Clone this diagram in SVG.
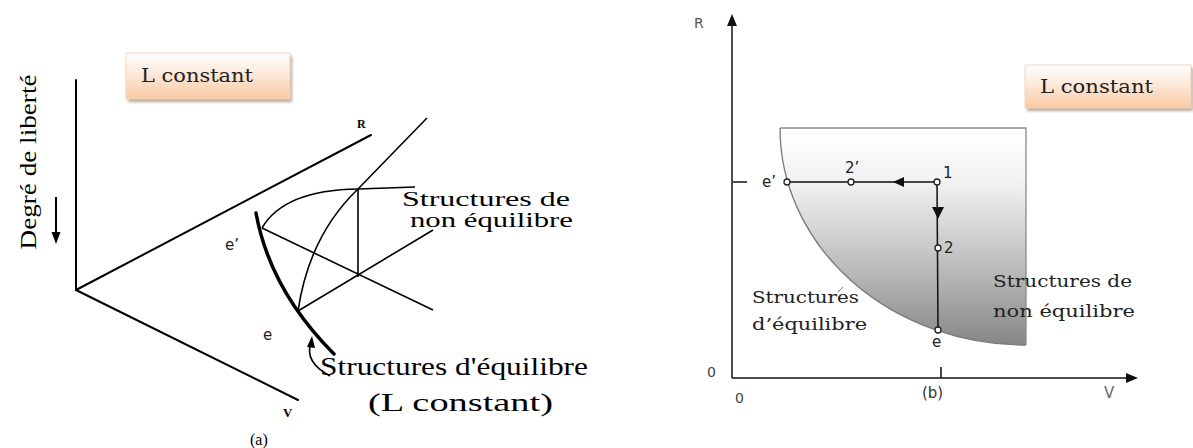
<svg xmlns="http://www.w3.org/2000/svg" width="1193" height="448" viewBox="0 0 1193 448">
<style>
.ax{stroke:#000;stroke-width:2;fill:none;stroke-linecap:round}
.ln{stroke:#000;stroke-width:1.6;fill:none}
.thick{stroke:#000;stroke-width:3.5;fill:none;stroke-linecap:round}
.ser{font-family:"Liberation Serif","Times New Roman",serif;fill:#000}
.dser{font-family:"DejaVu Serif","Liberation Serif",serif;fill:#222}
.sans{font-family:"DejaVu Sans","Liberation Sans",Arial,sans-serif;fill:#222}
.rl{stroke:#111;stroke-width:1.5;fill:none}
.pt{fill:#fff;stroke:#222;stroke-width:1.3}
.box{fill:url(#peach);stroke:#f1d6c2;stroke-width:1}
</style>
<defs>
<linearGradient id="peach" x1="0" y1="0" x2="0" y2="1">
<stop offset="0" stop-color="#ffffff"/>
<stop offset="0.35" stop-color="#fdeee3"/>
<stop offset="1" stop-color="#f9c9a3"/>
</linearGradient>
<linearGradient id="gray" gradientUnits="userSpaceOnUse" x1="0" y1="128" x2="0" y2="345">
<stop offset="0" stop-color="#ffffff"/>
<stop offset="0.25" stop-color="#f2f2f2"/>
<stop offset="0.6" stop-color="#c2c2c2"/>
<stop offset="1" stop-color="#868686"/>
</linearGradient>
<filter id="sh" x="-10%" y="-20%" width="125%" height="160%">
<feGaussianBlur stdDeviation="1.5"/>
</filter>
</defs>

<!-- Left diagram (a) -->
<g id="box-a">
<rect x="128" y="56" width="164" height="46" fill="#b8a89a" filter="url(#sh)"/>
<rect class="box" x="126" y="53" width="164" height="46"/>
<text class="dser" x="141" y="82" font-size="18" textLength="112" lengthAdjust="spacingAndGlyphs">L constant</text>
</g>

<g id="axes-a">
<line class="ax" x1="76" y1="80" x2="76" y2="290"/>
<line class="ax" x1="76" y1="290" x2="371" y2="135"/>
<line class="ax" x1="76" y1="290" x2="298" y2="400"/>
<text class="ser" x="357" y="128" font-size="12" font-weight="bold">R</text>
<text class="ser" x="283" y="417" font-size="13" font-weight="bold">V</text>
<text class="ser" x="250" y="445" font-size="16">(a)</text>
</g>

<g id="ylabel-a">
<text class="ser" transform="translate(36,162) rotate(-90)" text-anchor="middle" font-size="24" textLength="175" lengthAdjust="spacingAndGlyphs">Degré de liberté</text>
<line x1="56" y1="197" x2="56" y2="233" stroke="#000" stroke-width="2"/>
<path d="M51.5,232 L60.5,232 L56,244 Z" fill="#000"/>
</g>

<g id="surface-a">
<path class="ln" d="M298,311 Q309,236 358,189 L427,118"/>
<path class="ln" d="M262,228 Q284,190 358,189 L415,187"/>
<line class="ln" x1="358" y1="189" x2="358" y2="277"/>
<line class="ln" x1="298" y1="311" x2="433" y2="230"/>
<line class="ln" x1="262" y1="228" x2="433" y2="310"/>
<path class="thick" d="M256,213 Q270,290 334,354"/>
<text class="sans" x="225" y="250" font-size="15">e’</text>
<text class="sans" x="263" y="340" font-size="15">e</text>
</g>

<g id="label-noneq-a">
<text class="ser" x="402" y="206" font-size="20" textLength="168" lengthAdjust="spacingAndGlyphs">Structures de</text>
<text class="ser" x="410" y="227" font-size="20" textLength="163" lengthAdjust="spacingAndGlyphs">non équilibre</text>
</g>

<g id="label-eq-a">
<path d="M330,376 Q304,362 311,343" stroke="#000" stroke-width="1.6" fill="none"/>
<path d="M307,347 L312,336 L315,348 Z" fill="#000"/>
<text class="ser" x="320" y="375" font-size="26" textLength="268" lengthAdjust="spacingAndGlyphs">Structures d'équilibre</text>
<text class="ser" x="368" y="411" font-size="26" textLength="185" lengthAdjust="spacingAndGlyphs">(L constant)</text>
</g>

<!-- Right diagram (b) -->
<g id="box-b">
<rect x="1027" y="68" width="166" height="43" fill="#b8a89a" filter="url(#sh)"/>
<rect class="box" x="1025" y="65" width="166" height="43"/>
<text class="dser" x="1040" y="93" font-size="18" textLength="113" lengthAdjust="spacingAndGlyphs">L constant</text>
</g>

<g id="region-b">
<path d="M780,128 L1026,128 L1026,345 A246,217 0 0 1 780,128 Z" fill="url(#gray)"/>
<path d="M780,128 L1026,128 L1026,345" stroke="#8a8a8a" stroke-width="1.3" fill="none"/>
<path d="M1026,345 A246,217 0 0 1 780,128" stroke="#7a7a7a" stroke-width="1.3" fill="none"/>
</g>

<g id="axes-b">
<line class="rl" x1="732" y1="378" x2="732" y2="24"/>
<path d="M727,26 L737,26 L732,14 Z" fill="#111"/>
<line class="rl" x1="732" y1="378" x2="1128" y2="378"/>
<path d="M1126,373 L1138,378 L1126,383 Z" fill="#111"/>
<line class="rl" x1="941" y1="367" x2="941" y2="378"/>
<line class="rl" x1="733" y1="182" x2="747" y2="182"/>
<text class="sans" x="694" y="28" font-size="14" style="fill:#555">R</text>
<text class="sans" x="707" y="377" font-size="14" style="fill:#444">0</text>
<text class="sans" x="735" y="403" font-size="14" style="fill:#444">0</text>
<text class="sans" x="922" y="398" font-size="15" style="fill:#333">(b)</text>
<text class="sans" x="1104" y="398" font-size="15" style="fill:#666">V</text>
</g>

<g id="connectors">
<line class="rl" x1="937" y1="182" x2="787" y2="182"/>
<path d="M893,182 L904,177 L904,187 Z" fill="#111"/>
<line class="rl" x1="937" y1="182" x2="938" y2="330"/>
<path d="M932,207 L944,207 L938,219 Z" fill="#111"/>
</g>

<g id="pt-eprime"><circle class="pt" cx="787" cy="182" r="3"/><text class="sans" x="762" y="187" font-size="15">e’</text></g>
<g id="pt-2prime"><circle class="pt" cx="851" cy="182" r="3"/><text class="sans" x="845" y="173" font-size="15">2’</text></g>
<g id="pt-1"><circle class="pt" cx="937" cy="182" r="3"/><text class="sans" x="943" y="178" font-size="15">1</text></g>
<g id="pt-2"><circle class="pt" cx="938" cy="248" r="3"/><text class="sans" x="944" y="253" font-size="15">2</text></g>
<g id="pt-e"><circle class="pt" cx="938" cy="330" r="3"/><text class="sans" x="932" y="347" font-size="15">e</text></g>

<g id="label-eq-b">
<line x1="843" y1="287" x2="838" y2="292" stroke="#777" stroke-width="1"/>
<text class="dser" x="752" y="303" font-size="17" textLength="107" lengthAdjust="spacingAndGlyphs">Structures</text>
<text class="dser" x="752" y="330" font-size="17" textLength="115" lengthAdjust="spacingAndGlyphs">d’équilibre</text>
</g>
<g id="label-noneq-b">
<text class="dser" x="993" y="287" font-size="17" textLength="139" lengthAdjust="spacingAndGlyphs">Structures de</text>
<text class="dser" x="993" y="317" font-size="17" textLength="142" lengthAdjust="spacingAndGlyphs">non équilibre</text>
</g>
</svg>
